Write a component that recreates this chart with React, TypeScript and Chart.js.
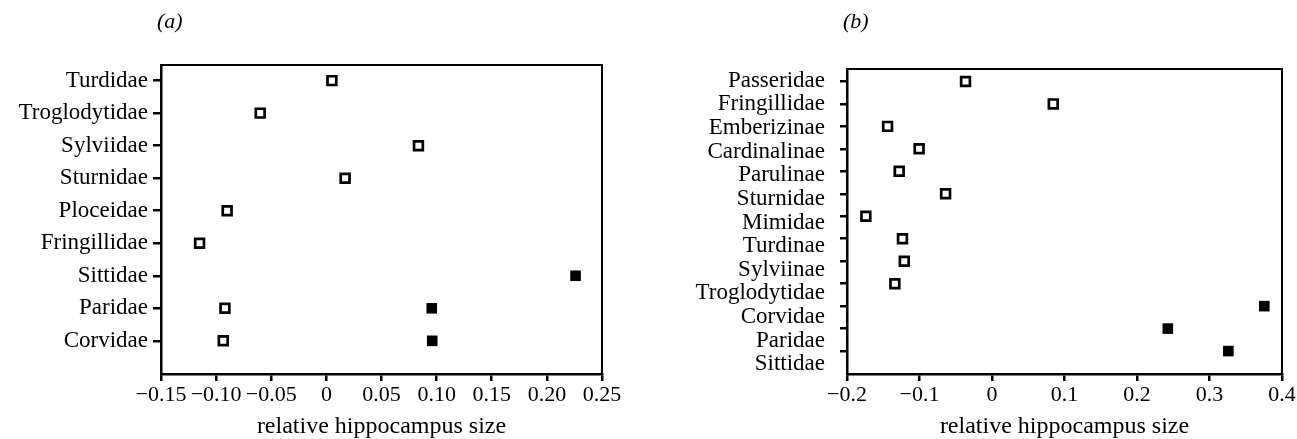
import React, { useEffect, useRef } from 'react';
import { Chart, registerables } from 'chart.js';

Chart.register(...registerables);

// ---------- Data ----------
const categoriesA = ['Turdidae', 'Troglodytidae', 'Sylviidae', 'Sturnidae', 'Ploceidae', 'Fringillidae', 'Sittidae', 'Paridae', 'Corvidae'];
const openA: (number | null)[] = [0.005, -0.06, 0.0835, 0.017, -0.09, -0.115, null, -0.092, -0.0935];
const filledA: (number | null)[] = [null, null, null, null, null, null, 0.226, 0.0956, 0.096];
const xTicksA = [-0.15, -0.1, -0.05, 0, 0.05, 0.1, 0.15, 0.2, 0.25];
const xTickLabelsA = ['−0.15', '−0.10', '−0.05', '0', '0.05', '0.10', '0.15', '0.20', '0.25'];

const categoriesB = ['Passeridae', 'Fringillidae', 'Emberizinae', 'Cardinalinae', 'Parulinae', 'Sturnidae', 'Mimidae', 'Turdinae', 'Sylviinae', 'Troglodytidae', 'Corvidae', 'Paridae', 'Sittidae'];
const openB: (number | null)[] = [-0.0365, 0.0845, -0.144, -0.1005, -0.128, -0.064, -0.174, -0.1235, -0.121, -0.134, null, null, null];
const filledB: (number | null)[] = [null, null, null, null, null, null, null, null, null, null, 0.3756, 0.2425, 0.326];
const xTicksB = [-0.2, -0.1, 0, 0.1, 0.2, 0.3, 0.4];
const xTickLabelsB = ['−0.2', '−0.1', '0', '0.1', '0.2', '0.3', '0.4'];

const axisTitle = 'relative hippocampus size';

// ---------- Styles ----------
const FAMILY = '"Liberation Serif", "Times New Roman", serif';
const BLACK = '#000';

const framePlugin = {
  id: 'frame',
  afterDraw(chart: any) {
    const { ctx, chartArea: a } = chart;
    ctx.save();
    ctx.strokeStyle = BLACK;
    ctx.lineWidth = 2;
    ctx.strokeRect(a.left, a.top, a.right - a.left, a.bottom - a.top);
    ctx.restore();
  },
};

function toPoints(values: (number | null)[]) {
  return values
    .map((v, i) => (v === null ? null : { x: v, y: i }))
    .filter((p) => p !== null) as { x: number; y: number }[];
}

interface PanelProps {
  categories: string[];
  open: (number | null)[];
  filled: (number | null)[];
  xTicks: number[];
  xLabels: string[];
  width: number;
  height: number;
  padTop: number;
  padRight: number;
  yAxisWidth: number;
  yMin: number;
  yMax: number;
  split?: { labelMin: number; labelMax: number };
}

function Panel(p: PanelProps) {
  const ref = useRef<HTMLCanvasElement | null>(null);

  useEffect(() => {
    if (!ref.current) return;
    const xMin = p.xTicks[0];
    const xMax = p.xTicks[p.xTicks.length - 1];
    const labelFont = { family: FAMILY, size: 23 };

    const scales: any = {
      x: {
        type: 'linear',
        position: 'bottom',
        min: xMin,
        max: xMax,
        afterBuildTicks: (s: any) => {
          s.ticks = p.xTicks.map((v) => ({ value: v }));
        },
        ticks: {
          callback: (_v: any, i: number) => p.xLabels[i],
          font: { family: FAMILY, size: 22 },
          color: BLACK,
          padding: 1,
          maxRotation: 0,
          autoSkip: false,
        },
        grid: { drawOnChartArea: false, drawTicks: true, tickLength: 7, color: BLACK, lineWidth: 2.5 },
        border: { display: true, color: BLACK, width: 2.5 },
        title: {
          display: true,
          text: axisTitle,
          font: { family: FAMILY, size: 24, lineHeight: 1 },
          color: BLACK,
          padding: { top: 0, bottom: 0 },
        },
        afterFit: (s: any) => {
          s.height = 65;
        },
      },
    };

    if (!p.split) {
      scales.y = {
        type: 'linear',
        position: 'left',
        reverse: true,
        min: p.yMin,
        max: p.yMax,
        afterBuildTicks: (s: any) => {
          s.ticks = p.categories.map((_c, i) => ({ value: i }));
        },
        ticks: {
          callback: (_v: any, i: number) => p.categories[i],
          font: labelFont,
          color: BLACK,
          padding: 5,
          autoSkip: false,
        },
        grid: { drawOnChartArea: false, drawTicks: true, tickLength: 8, color: BLACK, lineWidth: 2.5 },
        border: { display: true, color: BLACK, width: 2.5 },
        afterFit: (s: any) => {
          s.width = p.yAxisWidth;
        },
      };
    } else {
      scales.y = {
        type: 'linear',
        position: 'left',
        weight: 0,
        reverse: true,
        min: p.yMin,
        max: p.yMax,
        afterBuildTicks: (s: any) => {
          s.ticks = p.categories.map((_c, i) => ({ value: i }));
        },
        ticks: { display: false },
        grid: { drawOnChartArea: false, drawTicks: true, tickLength: 7, color: BLACK, lineWidth: 2.5 },
        border: { display: true, color: BLACK, width: 2.5 },
        afterFit: (s: any) => {
          s.width = 7;
        },
      };
      scales.yLab = {
        type: 'linear',
        position: 'left',
        weight: 1,
        reverse: true,
        min: p.split.labelMin,
        max: p.split.labelMax,
        afterBuildTicks: (s: any) => {
          s.ticks = p.categories.map((_c, i) => ({ value: i }));
        },
        ticks: {
          callback: (_v: any, i: number) => p.categories[i],
          font: labelFont,
          color: BLACK,
          padding: 7,
          autoSkip: false,
        },
        grid: { display: false },
        border: { display: false },
        afterFit: (s: any) => {
          s.width = p.yAxisWidth - 7;
        },
      };
    }

    const chart = new Chart(ref.current, {
      type: 'scatter',
      data: {
        datasets: [
          {
            label: 'open',
            data: toPoints(p.open),
            xAxisID: 'x',
            yAxisID: 'y',
            pointStyle: 'rect',
            pointRadius: 6.2,
            pointBorderWidth: 2.7,
            backgroundColor: '#fff',
            borderColor: BLACK,
          } as any,
          {
            label: 'filled',
            data: toPoints(p.filled),
            xAxisID: 'x',
            yAxisID: 'y',
            pointStyle: 'rect',
            pointRadius: 7.5,
            pointBorderWidth: 0,
            backgroundColor: BLACK,
            borderColor: BLACK,
          } as any,
        ],
      },
      options: {
        responsive: false,
        animation: false,
        layout: { padding: { left: 0, top: p.padTop, right: p.padRight, bottom: 0 } },
        plugins: { legend: { display: false }, tooltip: { enabled: false } },
        scales,
      },
      plugins: [framePlugin],
    });
    return () => chart.destroy();
  }, []);

  return <canvas ref={ref} width={p.width} height={p.height} style={{ display: 'block' }} />;
}

export default function App() {
  const panelLabel: React.CSSProperties = {
    position: 'absolute',
    top: 8,
    fontFamily: FAMILY,
    fontStyle: 'italic',
    fontSize: 22,
    color: BLACK,
  };
  return (
    <div style={{ position: 'absolute', left: 0, top: 0, width: 1297, height: 439, background: '#fff', overflow: 'hidden' }}>
      <div style={{ position: 'absolute', left: 0, top: 0 }}>
        <Panel
          categories={categoriesA}
          open={openA}
          filled={filledA}
          xTicks={xTicksA}
          xLabels={xTickLabelsA}
          width={650}
          height={439}
          padTop={65}
          padRight={48}
          yAxisWidth={161}
          yMin={-0.48}
          yMax={9.02}
        />
      </div>
      <div style={{ position: 'absolute', left: 650, top: 0 }}>
        <Panel
          categories={categoriesB}
          open={openB}
          filled={filledB}
          xTicks={xTicksB}
          xLabels={xTickLabelsB}
          width={647}
          height={439}
          padTop={69}
          padRight={15}
          yAxisWidth={197}
          yMin={-0.553}
          yMax={13.02}
          split={{ labelMin: -0.496, labelMax: 12.415 }}
        />
      </div>
      <div style={{ ...panelLabel, left: 157 }}>(a)</div>
      <div style={{ ...panelLabel, left: 843 }}>(b)</div>
    </div>
  );
}
